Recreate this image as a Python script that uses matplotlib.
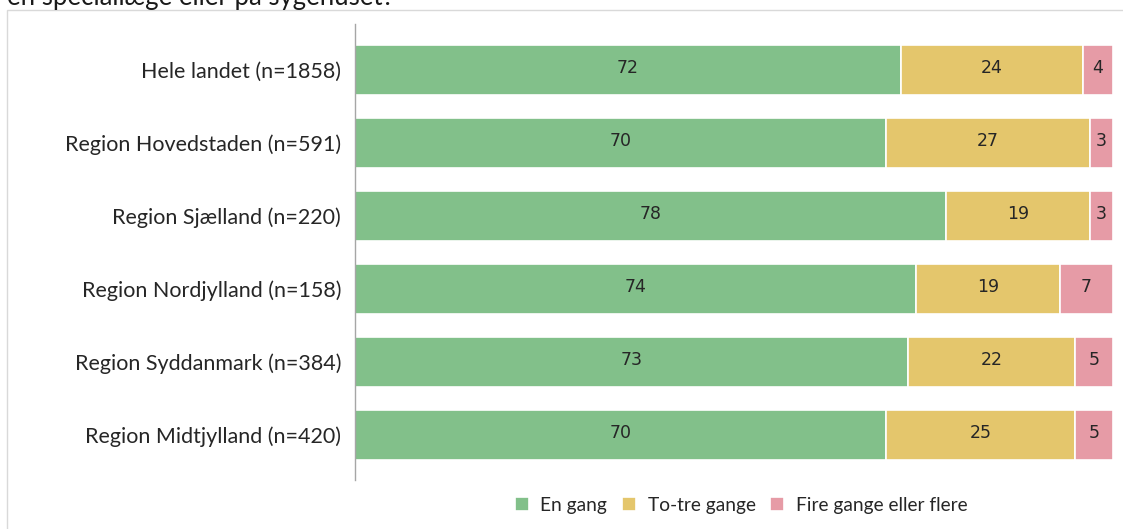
import matplotlib
matplotlib.use("Agg")
import matplotlib.pyplot as plt
from matplotlib.patches import Rectangle

categories = ["Hele landet (n=1858)", "Region Hovedstaden (n=591)", "Region Sjælland (n=220)",
              "Region Nordjylland (n=158)", "Region Syddanmark (n=384)", "Region Midtjylland (n=420)"]
series_names = ["En gang", "To-tre gange", "Fire gange eller flere"]
en_gang = [72, 70, 78, 74, 73, 70]
to_tre = [24, 27, 19, 19, 22, 25]
fire_plus = [4, 3, 3, 7, 5, 5]
colors = ["#82C08A", "#E4C66C", "#E69BA6"]
title = "en speciallæge eller på sygehuset?"

W, H = 1123, 529
fig = plt.figure(figsize=(W / 100, H / 100), dpi=100)
fig.patch.set_facecolor("white")

# outer frame
fig.patches.append(Rectangle((7 / W, -0.1), 1.2, (H - 10) / H + 0.1, transform=fig.transFigure,
                             fill=False, edgecolor="#D9D9D9", linewidth=1))
fig.text(7 / W, 1 - 5 / H, title, fontsize=18.5, family="Lato", color="#1a1a1a",
         ha="left", va="baseline")

ax = fig.add_axes([355 / W, (H - 480) / H, (1113 - 355) / W, (480 - 24) / H])
y = list(range(len(categories)))
series = [en_gang, to_tre, fire_plus]
left = [0] * len(categories)
for name, vals, c in zip(series_names, series, colors):
    ax.barh(y, vals, left=left, height=0.685, color=c, edgecolor="white",
            linewidth=1.2, label=name)
    for yi, l, v in zip(y, left, vals):
        ax.text(l + v / 2, yi - 0.03, str(v), ha="center", va="center", fontsize=12.5,
                family="DejaVu Sans", color="#262626")
    left = [a + b for a, b in zip(left, vals)]

ax.set_xlim(0, 100)
ax.set_ylim(5.62, -0.63)
ax.set_yticks(y)
ax.set_yticklabels(categories, fontsize=15.5, family="Lato", color="#262626")
for lbl in ax.get_yticklabels():
    lbl.set_va("center_baseline")
ax.tick_params(axis="y", length=0, pad=10)
ax.set_xticks([])
for s in ["top", "right", "bottom"]:
    ax.spines[s].set_visible(False)
ax.spines["left"].set_color("#A6A6A6")
ax.spines["left"].set_linewidth(1)

leg = fig.legend(loc="center", bbox_to_anchor=(741 / W, 1 - 505 / H), ncol=3, frameon=False,
                 prop={"family": "Lato", "size": 13.8}, handlelength=0.75,
                 handleheight=0.75, handletextpad=0.6, columnspacing=0.75)
for t in leg.get_texts():
    t.set_color("#262626")

fig.savefig("out.png", dpi=100)
